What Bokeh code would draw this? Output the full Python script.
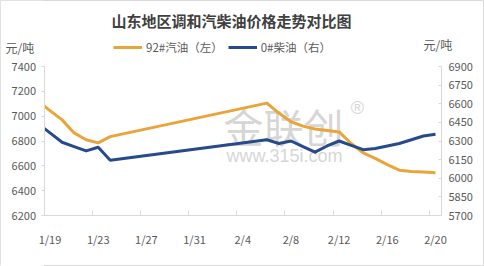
from datetime import date
from bokeh.plotting import figure
from bokeh.models import Range1d, LinearAxis, FixedTicker, Label, Legend, LegendItem, BoxAnnotation
from bokeh.embed import file_html
from bokeh.resources import INLINE

# ---- data ----
dates = ["2017-01-18", "2017-01-19", "2017-01-20", "2017-01-21", "2017-01-22", "2017-01-23",
         "2017-01-24", "2017-02-06", "2017-02-07", "2017-02-08", "2017-02-09", "2017-02-10",
         "2017-02-11", "2017-02-12", "2017-02-13", "2017-02-14", "2017-02-15", "2017-02-16",
         "2017-02-17", "2017-02-18", "2017-02-19", "2017-02-20"]
gasoline_92 = [7120, 7045, 6970, 6865, 6810, 6785, 6835, 7105, 7025, 6955, 6920, 6897,
               6885, 6873, 6780, 6705, 6660, 6610, 6565, 6555, 6550, 6545]
diesel_0 = [6440, 6365, 6290, 6255, 6220, 6250, 6145, 6310, 6280, 6300, 6255, 6210,
            6260, 6300, 6265, 6230, 6240, 6260, 6280, 6310, 6340, 6355]
tick_labels = ["1/19", "1/23", "1/27", "1/31", "2/4", "2/8", "2/12", "2/16", "2/20"]
left_ticks = [6200, 6400, 6600, 6800, 7000, 7200, 7400]
right_ticks = [5700, 5850, 6000, 6150, 6300, 6450, 6600, 6750, 6900]

base = date(2017, 1, 19)
days = [(date.fromisoformat(d) - base).days for d in dates]

# ---- layout (canvas pixels) ----
W, H = 484, 266
PL, PR, PT, PB = 43.5, 441.0, 66.0, 215.0      # plot area edges
X0, X1 = -0.5, 32.5                             # day slots shown
L0, L1 = 6200, 7400                             # left axis
R0, R1 = 5700, 6900                             # right axis

xs = (X1 - X0) / (PR - PL)
x_start, x_end = X0 - PL * xs, X1 + (W - PR) * xs
ls = (L1 - L0) / (PB - PT)
rs = (R1 - R0) / (PB - PT)

FONT = "Noto Sans CJK SC"
GREY = "#595959"
AXIS = "#d9d9d9"
GOLD = "#E9A53A"
NAVY = "#264A8A"

p = figure(width=W, height=H, output_backend="svg", toolbar_location=None, title=None,
           x_range=Range1d(x_start, x_end),
           y_range=Range1d(L0 - (H - PB) * ls, L1 + PT * ls),
           min_border=0, min_border_left=0, min_border_right=0,
           min_border_top=0, min_border_bottom=0)
p.extra_y_ranges = {"right": Range1d(R0 - (H - PB) * rs, R1 + PT * rs)}
p.xgrid.visible = False
p.ygrid.visible = False
p.outline_line_color = AXIS
p.background_fill_color = "white"
p.border_fill_color = "white"

tick_pos = [0, 4, 8, 12, 16, 20, 24, 28, 32]

# x axis
xa = p.xaxis[0]
xa.fixed_location = L0
xa.bounds = (X0, X1)
xa.ticker = FixedTicker(ticks=tick_pos, minor_ticks=[3.5, 7.5, 11.5, 15.5, 19.5, 23.5, 27.5, 31.5])
xa.major_label_overrides = {t: lab for t, lab in zip(tick_pos, tick_labels)}
xa.major_tick_line_color = None
xa.minor_tick_line_color = AXIS
xa.minor_tick_in = 5
xa.minor_tick_out = 0
xa.axis_line_color = AXIS
xa.major_label_standoff = 9
xa.major_label_text_font = FONT
xa.major_label_text_font_size = "11px"
xa.major_label_text_color = GREY

# left axis
ya = p.yaxis[0]
ya.fixed_location = X0
ya.bounds = (L0, L1)
ya.ticker = FixedTicker(ticks=left_ticks)
ya.minor_tick_line_color = None
ya.major_tick_line_color = AXIS
ya.major_tick_in = 0
ya.major_tick_out = 3
ya.axis_line_color = AXIS
ya.major_label_standoff = 5
ya.major_label_text_font = FONT
ya.major_label_text_font_size = "11px"
ya.major_label_text_color = GREY

# right axis
ra = LinearAxis(y_range_name="right", ticker=FixedTicker(ticks=right_ticks),
                fixed_location=X1, bounds=(R0, R1))
ra.minor_tick_line_color = None
ra.major_tick_line_color = AXIS
ra.major_tick_in = 3
ra.major_tick_out = 0
ra.axis_line_color = AXIS
ra.major_label_standoff = 7
ra.major_label_text_font = FONT
ra.major_label_text_font_size = "11px"
ra.major_label_text_color = GREY
p.add_layout(ra, "right")

# watermark
for txt, x, y, size, font in [("金联创", 283, 125, "40px", FONT),
                              ("®", 357, 107, "18px", "Liberation Sans"),
                              ("www.315i.com", 284, 155, "18px", "Liberation Sans")]:
    p.add_layout(Label(x=x, y=H - y, x_units="screen", y_units="screen", text=txt,
                       text_align="center", text_baseline="middle", text_font=font,
                       text_font_size=size, text_color="#d6d6d6", level="underlay"))

g = p.line(days, gasoline_92, line_color=GOLD, line_width=3, line_join="round")
d = p.line(days, diesel_0, line_color=NAVY, line_width=3, line_join="round", y_range_name="right")

# keep the lines inside the plot area (left of the first slot)
p.add_layout(BoxAnnotation(right=X0, fill_color="white", fill_alpha=1, line_color=None,
                           level="glyph"))

legend = Legend(items=[LegendItem(label="92#汽油（左）", renderers=[g]),
                       LegendItem(label="0#柴油（右）", renderers=[d])],
                orientation="horizontal", location=(113, H - 55),
                border_line_color=None, background_fill_alpha=0,
                padding=0, margin=0, spacing=5, glyph_width=29, glyph_height=14,
                label_standoff=4, label_text_font=FONT, label_text_font_size="11.5px",
                label_text_color=GREY)
p.add_layout(legend)

# title and unit labels
p.add_layout(Label(x=231, y=H - 20, x_units="screen", y_units="screen",
                   text="山东地区调和汽柴油价格走势对比图", text_align="center",
                   text_baseline="middle", text_font=FONT, text_font_size="15px",
                   text_font_style="bold", text_color="#404040"))
p.add_layout(Label(x=5, y=H - 47, x_units="screen", y_units="screen", text="元/吨",
                   text_align="left", text_baseline="middle", text_font=FONT,
                   text_font_size="12px", text_color=GREY))
p.add_layout(Label(x=423, y=H - 44, x_units="screen", y_units="screen", text="元/吨",
                   text_align="left", text_baseline="middle", text_font=FONT,
                   text_font_size="12px", text_color=GREY))

open("out.html", "w").write(file_html(p, INLINE))
